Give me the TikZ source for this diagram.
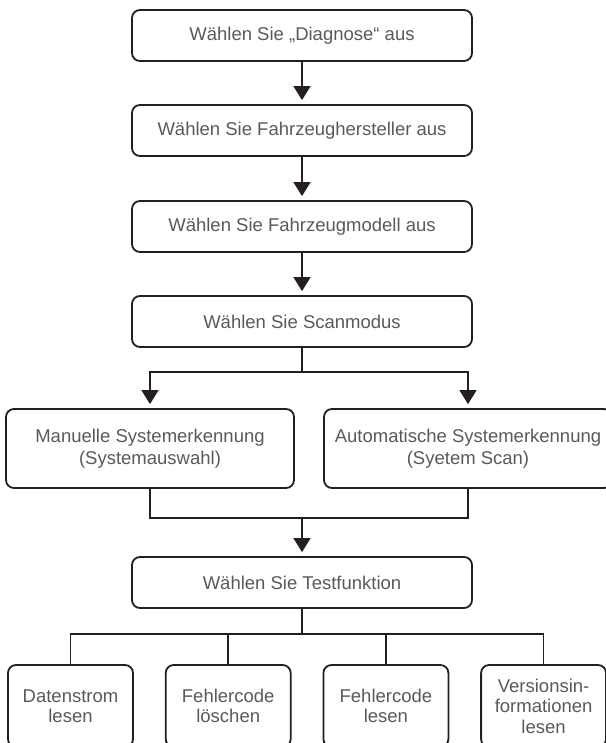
\documentclass[tikz,border=0pt]{standalone}
\usepackage{fontspec}
\setmainfont{Liberation Sans}
\usepackage{tikz}
\usetikzlibrary{arrows.meta,positioning}
\definecolor{linedark}{HTML}{231F20}
\definecolor{textgray}{HTML}{58595B}

\begin{document}
\begin{tikzpicture}[x=1pt, y=-1pt,
  proc/.style={rectangle, rounded corners=8pt, draw=linedark, line width=1.8pt, text=textgray, minimum width=340pt, minimum height=51pt, align=center, font=\fontsize{18.5}{22}\selectfont},
  choice/.style={proc, minimum width=288pt, minimum height=79pt},
  leaf/.style={proc, minimum width=125pt, minimum height=82pt, font=\fontsize{18.5}{20.5}\selectfont},
  conn/.style={draw=linedark, line width=1.6pt},
  flow/.style={conn, -{Triangle[width=17pt,length=14pt]}, shorten >=4pt}
]
\useasboundingbox (0,0) rectangle (605,743);

\node[proc] (diag)   at (302,35.5)  {Wählen Sie „Diagnose“ aus};
\node[proc] (herst)  at (302,130.5) {Wählen Sie Fahrzeughersteller aus};
\node[proc] (modell) at (302,226.5) {Wählen Sie Fahrzeugmodell aus};
\node[proc] (scan)   at (302,321.5) {Wählen Sie Scanmodus};

\node[choice] (manuell) at (150,448.5) {Manuelle Systemerkennung\\(Systemauswahl)};
\node[choice] (auto)    at (468,448.5) {Automatische Systemerkennung\\(Syetem Scan)};

\node[proc] (test) at (302,582.5) {Wählen Sie Testfunktion};

\node[leaf] (f1) at (70.5,706)  {Datenstrom\\lesen};
\node[leaf] (f2) at (228.2,706) {Fehlercode\\löschen};
\node[leaf] (f3) at (385.9,706) {Fehlercode\\lesen};
\node[leaf] (f4) at (543.6,706) {Versionsin-\\formationen\\lesen};

\coordinate (split) at (302,372);
\coordinate (merge) at (302,518);
\coordinate (fork)  at (302,634);

\draw[flow] (diag) -- (herst);
\draw[flow] (herst) -- (modell);
\draw[flow] (modell) -- (scan);

\draw[conn] (scan) -- (split);
\draw[flow] (split) -| (manuell);
\draw[flow] (split) -| (auto);

\draw[conn] (manuell) |- (merge) -| (auto);
\draw[flow] (merge) -- (test);

\draw[conn] (test) -- (fork);
\foreach \f in {f1,f2,f3,f4}
  \draw[conn] (fork) -| (\f);
\end{tikzpicture}
\end{document}
